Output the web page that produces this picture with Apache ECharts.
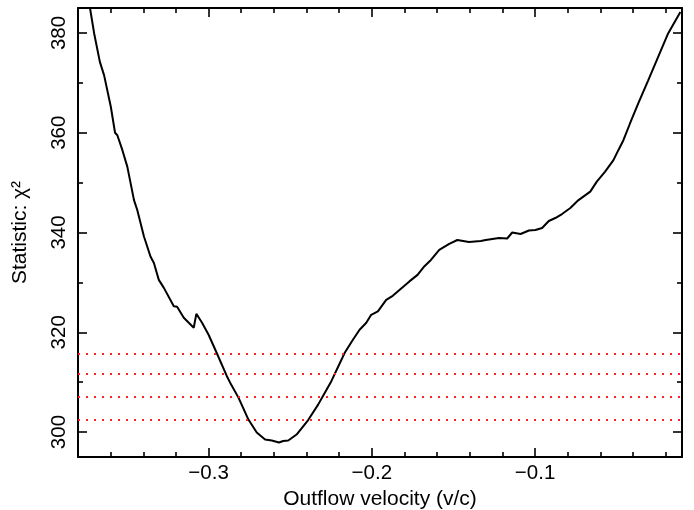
<!DOCTYPE html>
<html>
<head>
<meta charset="utf-8">
<script src="https://cdn.jsdelivr.net/npm/echarts@6/dist/echarts.min.js"></script>
<style>
  html, body { margin: 0; padding: 0; background: #ffffff; }
  #chart { width: 694px; height: 510px; }
</style>
</head>
<body>
<div id="chart"></div>
<script>
// Fit statistic scanned over the outflow velocity of the absorber
const velocity = [
  -0.3726, -0.3701, -0.3666, -0.3640, -0.3599, -0.3573, -0.3559, -0.3528, -0.3498, -0.3457,
  -0.3437, -0.3396, -0.3356, -0.3335, -0.3305, -0.3274, -0.3213, -0.3193, -0.3152, -0.3091,
  -0.3075, -0.3040, -0.3000, -0.2959, -0.2888, -0.2868, -0.2817, -0.2756, -0.2705, -0.2654,
  -0.2613, -0.2569, -0.2543, -0.2512, -0.2461, -0.2390, -0.2329, -0.2288, -0.2248, -0.2166,
  -0.2116, -0.2075, -0.2034, -0.2004, -0.1963, -0.1912, -0.1872, -0.1770, -0.1720, -0.1679,
  -0.1638, -0.1587, -0.1526, -0.1476, -0.1405, -0.1333, -0.1302, -0.1221, -0.1171, -0.1140,
  -0.1089, -0.1038, -0.0998, -0.0957, -0.0916, -0.0876, -0.0835, -0.0784, -0.0734, -0.0662,
  -0.0622, -0.0571, -0.0520, -0.0490, -0.0459, -0.0418, -0.0368, -0.0307, -0.0246, -0.0185,
  -0.0110
];
const chiSq = [
  384.9, 379.9, 374.2, 371.5, 365.2, 360.0, 359.5, 356.5, 353.2, 346.5,
  344.5, 339.2, 335.2, 333.9, 330.5, 328.9, 325.2, 325.1, 322.9, 320.9,
  323.7, 321.9, 319.5, 316.5, 311.2, 309.9, 306.9, 302.5, 299.9, 298.5,
  298.3, 297.9, 298.2, 298.3, 299.5, 302.4, 305.5, 307.9, 310.2, 315.9,
  318.5, 320.5, 321.9, 323.5, 324.2, 326.5, 327.3, 330.2, 331.5, 333.2,
  334.5, 336.5, 337.7, 338.5, 338.1, 338.3, 338.5, 338.9, 338.8, 340.0,
  339.7, 340.4, 340.5, 340.9, 342.3, 342.9, 343.7, 344.9, 346.5, 348.2,
  350.2, 352.2, 354.5, 356.5, 358.5, 361.9, 365.9, 370.5, 375.2, 379.9,
  384.2
];
// Confidence levels above the best fit
const confidenceLevels = [302.5, 307.0, 311.6, 315.7];

const xRange = [-0.38, -0.01];
const yRange = [295, 385];
const xMajorTicks = [-0.3, -0.2, -0.1];
const xMinorTicks = [-0.36, -0.34, -0.32, -0.28, -0.26, -0.24, -0.22, -0.18, -0.16, -0.14, -0.12, -0.08, -0.06, -0.04, -0.02];
const yMajorTicks = [300, 320, 340, 360, 380];
const yMinorTicks = [310, 330, 350, 370];

const FONT = "'Liberation Sans', Arial, Helvetica, sans-serif";
const minus = v => String(v).replace('-', '\u2212');

function axisFrame(kind, position, ticks, tickLen, withLabels) {
  const range = kind === 'x' ? xRange : yRange;
  const ax = {
    type: 'value',
    position: position,
    min: range[0],
    max: range[1],
    splitLine: { show: false },
    axisLine: { show: withLabels !== null, lineStyle: { color: '#000', width: 2 } },
    axisTick: {
      show: true, inside: true, length: tickLen,
      customValues: ticks,
      lineStyle: { color: '#000', width: 1.6 }
    },
    axisLabel: { show: false }
  };
  if (withLabels) {
    ax.axisLabel = {
      show: true,
      customValues: ticks,
      color: '#000',
      fontFamily: FONT,
      fontSize: 20.5,
      formatter: minus
    };
  }
  return ax;
}

const xBottom = axisFrame('x', 'bottom', xMajorTicks, 9, true);
xBottom.axisLabel.margin = 6;
xBottom.name = 'Outflow velocity (v/c)';
xBottom.nameLocation = 'middle';
xBottom.nameGap = 30;
xBottom.nameTextStyle = { color: '#000', fontFamily: FONT, fontSize: 21 };

const yLeft = axisFrame('y', 'left', yMajorTicks, 9, true);
yLeft.axisLabel.rotate = 90;
yLeft.axisLabel.margin = 8;
yLeft.name = 'Statistic: \u03c7\u00b2';
yLeft.nameLocation = 'middle';
yLeft.nameGap = 47;
yLeft.nameTextStyle = { color: '#000', fontFamily: FONT, fontSize: 21 };

const option = {
  animation: false,
  backgroundColor: '#ffffff',
  grid: { left: 78, right: 12, top: 8, bottom: 53, containLabel: false, outerBoundsMode: 'none' },
  xAxis: [
    xBottom,
    axisFrame('x', 'bottom', xMinorTicks, 5, null),
    axisFrame('x', 'top', xMajorTicks, 9, false),
    axisFrame('x', 'top', xMinorTicks, 5, null)
  ],
  yAxis: [
    yLeft,
    axisFrame('y', 'left', yMinorTicks, 5, null),
    axisFrame('y', 'right', yMajorTicks, 9, false),
    axisFrame('y', 'right', yMinorTicks, 5, null)
  ],
  series: [
    {
      type: 'line',
      xAxisIndex: 0,
      yAxisIndex: 0,
      data: velocity.map((v, i) => [v, chiSq[i]]),
      showSymbol: false,
      symbol: 'none',
      clip: true,
      lineStyle: { color: '#000', width: 2 },
      markLine: {
        silent: true,
        symbol: 'none',
        label: { show: false },
        lineStyle: { color: '#ff2020', width: 2, type: [2, 6], dashOffset: 0 },
        data: confidenceLevels.map(c => ({ yAxis: c }))
      },
      z: 3
    }
  ]
};

const chart = echarts.init(document.getElementById('chart'), null, { renderer: 'canvas' });
chart.setOption(option);
</script>
</body>
</html>
